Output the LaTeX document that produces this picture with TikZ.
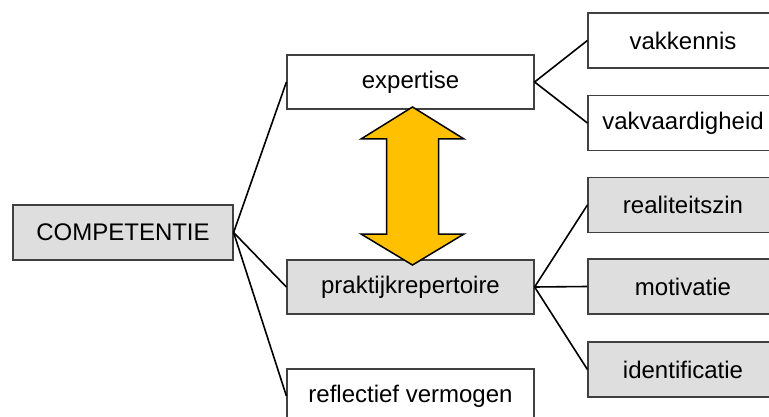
\documentclass[tikz,border=0pt]{standalone}
\usepackage{fontspec}
\setmainfont{Liberation Sans}
\begin{document}
\begin{tikzpicture}[x=1pt,y=-1pt,
  box/.style={draw=black!75, line width=1.2pt, fill=white, inner sep=0pt,
    font=\fontsize{24}{28}\selectfont},
  wbox/.style={box, fill=white},
  gbox/.style={box, fill=black!13},
  mid/.style={minimum width=247pt, minimum height=54pt},
  leaf/.style={minimum width=190pt, minimum height=55pt},
  link/.style={draw=black, line width=1.6pt}]
\useasboundingbox (0,0) rectangle (769,417);
\clip (0,0) rectangle (769,417);

% main concept
\node[gbox, minimum width=220pt, minimum height=55pt] (comp) at (123,232.5) {COMPETENTIE};

% middle layer
\node[wbox, mid] (exp) at (410.5,82) {expertise};
\node[gbox, mid] (prak) at (410.5,287) {praktijkrepertoire};
\node[wbox, mid] (refl) at (410.5,396) {reflectief vermogen};

% leaves
\node[wbox, leaf] (kennis) at (683,40.5) {vakkennis};
\node[wbox, leaf] (vaard) at (683,123) {vakvaardigheid};
\node[gbox, leaf] (real) at (683,205) {realiteitszin};
\node[gbox, leaf] (motiv) at (683,286.5) {motivatie};
\node[gbox, leaf] (ident) at (683,369.5) {identificatie};

% connectors
\draw[link] (comp.east) -- (exp.west);
\draw[link] (comp.east) -- (prak.west);
\draw[link] (comp.east) -- (refl.west);
\draw[link] (exp.east) -- (kennis.west);
\draw[link] (exp.east) -- (vaard.west);
\draw[link] (prak.east) -- (real.west);
\draw[link] (prak.east) -- (motiv.west);
\draw[link] (prak.east) -- (ident.west);

% two-way block arrow between expertise and praktijkrepertoire
\draw[fill={rgb,255:red,255;green,192;blue,0}, draw=black, line width=1.5pt, line join=miter]
  (412.5,107) -- (464,139) -- (438.5,139) -- (438.5,234) -- (464,234)
  -- (412.5,265) -- (361,234) -- (386.5,234) -- (386.5,139) -- (361,139) -- cycle;
\end{tikzpicture}
\end{document}
